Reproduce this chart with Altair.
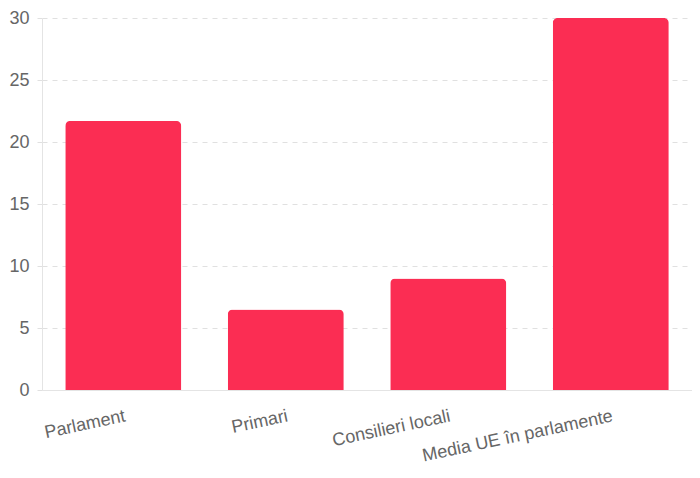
import altair as alt
import pandas as pd

categories = ["Parlament", "Primari", "Consilieri locali", "Media UE în parlamente"]
values = [21.7, 6.5, 9.0, 30.0]

df = pd.DataFrame({"cat": categories, "val": values})

chart = alt.Chart(df).mark_bar(
    color="#FB2D53",
    cornerRadiusTopLeft=5,
    cornerRadiusTopRight=5,
).encode(
    x=alt.X("cat:N", sort=categories, title=None,
            scale=alt.Scale(paddingInner=0.286, paddingOuter=0.143),
            axis=alt.Axis(labelAngle=348, labelAlign="right", labelBaseline="top",
                          labelPadding=17, labelFontSize=18, labelColor="#666666",
                          labelFont="Liberation Sans", ticks=False,
                          domainColor="#e4e4e4", domainWidth=1, grid=False,
                          labelLimit=400)),
    y=alt.Y("val:Q", title=None,
            scale=alt.Scale(domain=[0, 30], nice=False),
            axis=alt.Axis(values=[0, 5, 10, 15, 20, 25, 30], labelFontSize=18,
                          labelColor="#666666", labelFont="Liberation Sans",
                          labelPadding=4, tickSize=9, tickColor="#e0e0e0",
                          tickDash=[5, 5], gridColor="#e0e0e0", gridDash=[5, 5],
                          domainColor="#e4e4e4")),
).properties(
    width=650, height=372,
    autosize=alt.AutoSizeParams(type="none"),
    padding={"left": 34, "top": 10, "right": 0, "bottom": 80},
).configure_view(stroke=None)

chart.save("out.html", embed_options={"renderer": "svg", "actions": False})
